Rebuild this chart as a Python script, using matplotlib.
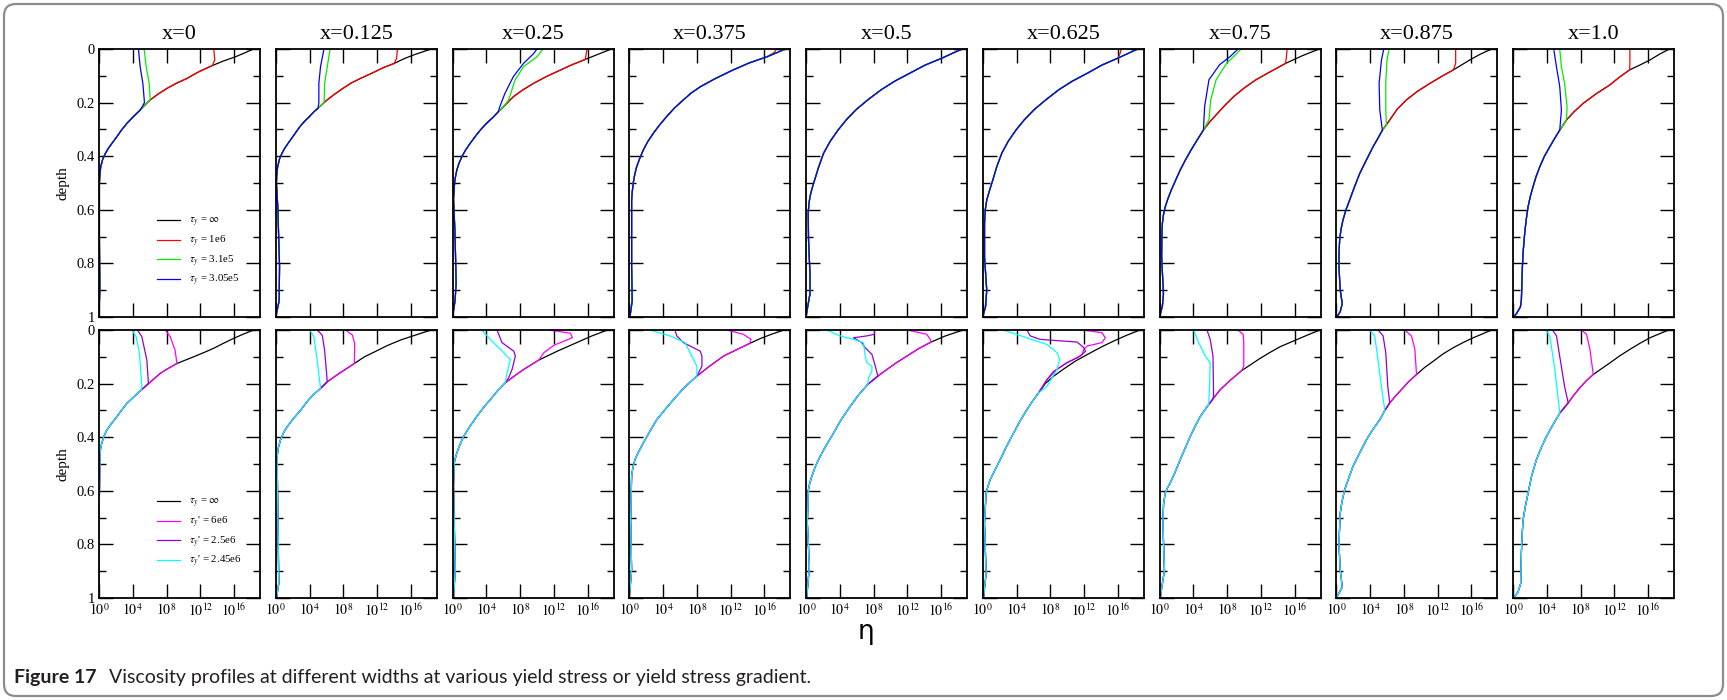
import numpy as np
import matplotlib.pyplot as plt
from matplotlib.patches import FancyBboxPatch
from matplotlib.ticker import NullLocator

plt.rcParams['font.family'] = 'serif'
plt.rcParams['font.serif'] = ['Liberation Serif', 'DejaVu Serif']
plt.rcParams['mathtext.fontset'] = 'stix'

# column titles (position across the width)
widths = ['x=0', 'x=0.125', 'x=0.25', 'x=0.375', 'x=0.5', 'x=0.625', 'x=0.75', 'x=0.875', 'x=1.0']

# viscosity profiles as (depth, log10 eta) pairs, one list per width.
# yielded curves are given down to the depth where they rejoin the reference curve.
top_black = [
    [(0, 18.3), (0.015, 17.2), (0.029, 16.15), (0.045, 14.7), (0.062, 13.4), (0.085, 11.8), (0.11, 10.4), (0.128, 9.15),
     (0.147, 8.04), (0.168, 7.0), (0.19, 6.06), (0.21, 5.4), (0.228, 4.87), (0.253, 4.05), (0.278, 3.29), (0.303, 2.65),
     (0.328, 2.1), (0.35, 1.58), (0.371, 1.1), (0.39, 0.75), (0.41, 0.45), (0.44, 0.2), (0.47, 0.1), (0.5, 0.05),
     (0.7, 0.05), (0.9, 0.1), (1.0, 0.0)],
    [(0, 18.4), (0.02, 16.5), (0.036, 15.2), (0.054, 14.0), (0.07, 12.7), (0.09, 11.4), (0.11, 10.0), (0.128, 8.87),
     (0.15, 7.8), (0.17, 6.9), (0.192, 6.0), (0.215, 5.2), (0.233, 4.55), (0.253, 3.95), (0.27, 3.4), (0.29, 2.85),
     (0.31, 2.4), (0.328, 2.0), (0.35, 1.5), (0.371, 1.05), (0.39, 0.72), (0.41, 0.45), (0.44, 0.22), (0.47, 0.12),
     (0.5, 0.08), (0.59, 0.24), (0.81, 0.45), (0.94, 0.4), (1.0, 0.0)],
    [(0, 18.8), (0.02, 17.2), (0.039, 15.7), (0.058, 14.2), (0.078, 12.8), (0.103, 11.1), (0.128, 9.6), (0.153, 8.3),
     (0.178, 7.2), (0.197, 6.6), (0.215, 6.05), (0.235, 5.4), (0.253, 4.86), (0.278, 4.0), (0.303, 3.28), (0.328, 2.65),
     (0.352, 2.09), (0.377, 1.55), (0.402, 1.1), (0.428, 0.75), (0.452, 0.51), (0.477, 0.35), (0.502, 0.24),
     (0.56, 0.12), (0.69, 0.3), (0.875, 0.43), (0.94, 0.3), (1.0, 0.0)],
    [(0, 18.6), (0.012, 17.6), (0.029, 16.3), (0.052, 14.2), (0.078, 12.3), (0.11, 10.2), (0.141, 8.4), (0.165, 7.3),
     (0.19, 6.4), (0.22, 5.35), (0.253, 4.4), (0.285, 3.55), (0.315, 2.84), (0.345, 2.2), (0.377, 1.66), (0.41, 1.22),
     (0.44, 0.87), (0.47, 0.64), (0.5, 0.47), (0.535, 0.35), (0.564, 0.28), (0.813, 0.28), (0.94, 0.35), (1.0, 0.08)],
    [(0, 18.55), (0.015, 17.4), (0.034, 16.1), (0.06, 14.1), (0.09, 12.3), (0.12, 10.5), (0.152, 8.9), (0.19, 7.3),
     (0.227, 5.9), (0.265, 4.75), (0.302, 3.8), (0.345, 2.85), (0.389, 2.08), (0.44, 1.5), (0.489, 1.02), (0.52, 0.72),
     (0.551, 0.47), (0.58, 0.34), (0.613, 0.26), (0.713, 0.3), (0.838, 0.47), (0.913, 0.47), (0.96, 0.21), (1.0, 0.0)],
    [(0, 18.36), (0.015, 17.3), (0.034, 16.0), (0.06, 14.1), (0.09, 12.4), (0.12, 10.6), (0.152, 9.0), (0.19, 7.45),
     (0.227, 6.06), (0.265, 4.9), (0.302, 3.94), (0.345, 3.0), (0.389, 2.25), (0.44, 1.65), (0.489, 1.19), (0.53, 0.78),
     (0.564, 0.47), (0.6, 0.3), (0.651, 0.21), (0.776, 0.21), (0.9, 0.47), (0.96, 0.34), (1.0, 0.0)],
    [(0, 18.9), (0.025, 16.9), (0.054, 14.9), (0.085, 13.1), (0.115, 11.4), (0.146, 10.0), (0.177, 8.8), (0.208, 7.8),
     (0.239, 6.9), (0.27, 6.0), (0.302, 5.2), (0.34, 4.45), (0.377, 3.73), (0.414, 3.07), (0.451, 2.46), (0.49, 1.9),
     (0.526, 1.4), (0.56, 0.98), (0.589, 0.68), (0.62, 0.46), (0.651, 0.34), (0.7, 0.28), (0.776, 0.25), (0.913, 0.47),
     (0.96, 0.34), (1.0, 0.0)],
    [(0, 18.4), (0.02, 17.0), (0.041, 15.8), (0.06, 14.8), (0.078, 13.86), (0.1, 12.6), (0.128, 11.1), (0.158, 9.6),
     (0.19, 8.3), (0.225, 7.2), (0.265, 6.33), (0.303, 5.46), (0.335, 4.9), (0.365, 4.35), (0.415, 3.55), (0.465, 2.77),
     (0.515, 2.15), (0.564, 1.58), (0.6, 1.15), (0.639, 0.79), (0.675, 0.55), (0.714, 0.4), (0.76, 0.33), (0.813, 0.32),
     (0.9, 0.47), (0.95, 0.71), (0.98, 0.47), (1.0, 0.08)],
    [(0, 18.5), (0.02, 17.3), (0.041, 16.2), (0.06, 15.0), (0.078, 13.8), (0.105, 12.6), (0.134, 11.46), (0.168, 9.8),
     (0.203, 8.3), (0.235, 7.2), (0.265, 6.32), (0.303, 5.53), (0.335, 4.9), (0.365, 4.35), (0.4, 3.72), (0.44, 3.16),
     (0.477, 2.72), (0.514, 2.37), (0.55, 2.05), (0.589, 1.78), (0.64, 1.55), (0.689, 1.38), (0.75, 1.22), (0.813, 1.11),
     (0.938, 0.99), (0.963, 0.87), (0.988, 0.4), (1.0, 0.08)],
]
top_red = [
    [(0, 13.58), (0.041, 13.7), (0.062, 13.4)],
    [(0, 14.4), (0.035, 14.3), (0.054, 14.0)],
    [(0, 15.9), (0.022, 15.8), (0.039, 15.7)],
    [(0, 17.4), (0.012, 17.2), (0.029, 16.3)],
    [(0, 18.2), (0.015, 17.4)],
    [(0, 16.4), (0.021, 16.2), (0.034, 16.0)],
    [(0, 15.1), (0.035, 15.0), (0.054, 14.9)],
    [(0, 14.13), (0.054, 14.13), (0.078, 13.86)],
    [(0, 13.83), (0.054, 13.83), (0.078, 13.8)],
]
top_green = [
    [(0, 5.34), (0.066, 5.58), (0.128, 5.94), (0.19, 6.06)],
    [(0, 6.43), (0.066, 6.1), (0.128, 5.78), (0.2, 5.72), (0.215, 5.2)],
    [(0, 10.7), (0.029, 10.0), (0.066, 8.4), (0.116, 7.4), (0.19, 6.64), (0.215, 6.05)],
    [(0, 18.5), (0.012, 17.6)],
    [(0, 18.4), (0.015, 17.4)],
    [(0, 18.2), (0.015, 17.3)],
    [(0, 9.67), (0.021, 9.0), (0.052, 7.97), (0.115, 6.7), (0.19, 6.06), (0.264, 5.85), (0.302, 5.2)],
    [(0, 6.25), (0.041, 6.0), (0.128, 5.86), (0.228, 5.86), (0.284, 5.94), (0.303, 5.46)],
    [(0, 5.53), (0.066, 5.73), (0.128, 6.1), (0.215, 6.4), (0.265, 6.32)],
]
top_blue = [
    [(0, 4.67), (0.066, 4.87), (0.128, 5.19), (0.2, 5.38), (0.228, 4.87)],
    [(0, 5.7), (0.066, 5.3), (0.128, 5.1), (0.2, 5.1), (0.222, 5.0)],
    [(0, 10.0), (0.017, 9.6), (0.054, 8.4), (0.103, 7.2), (0.166, 6.2), (0.215, 5.6), (0.235, 5.4)],
    [(0, 18.3), (0.012, 17.6)],
    [(0, 18.5), (0.015, 17.4)],
    [(0, 18.3), (0.015, 17.3)],
    [(0, 9.3), (0.027, 8.4), (0.059, 7.1), (0.115, 5.85), (0.214, 5.34), (0.302, 5.2)],
    [(0, 5.62), (0.041, 5.35), (0.128, 5.07), (0.228, 5.15), (0.303, 5.46)],
    [(0, 4.82), (0.066, 5.14), (0.14, 5.53), (0.228, 5.73), (0.303, 5.53)],
]

bot_black = [
    [(0, 18.33), (0.015, 17.1), (0.031, 15.95), (0.05, 14.7), (0.068, 13.58), (0.085, 12.35), (0.1, 11.2),
     (0.125, 9.22), (0.143, 8.2), (0.162, 7.24), (0.2, 5.85), (0.224, 5.0), (0.25, 4.1), (0.274, 3.29), (0.3, 2.65),
     (0.324, 2.1), (0.35, 1.45), (0.374, 0.91), (0.4, 0.55), (0.423, 0.32), (0.44, 0.2), (0.46, 0.12), (0.635, 0.04),
     (1.0, 0.0)],
    [(0, 18.4), (0.012, 17.2), (0.037, 14.8), (0.058, 13.2), (0.08, 11.8), (0.1, 10.5), (0.125, 9.3), (0.16, 7.6),
     (0.193, 6.1), (0.218, 5.3), (0.24, 4.5), (0.26, 3.9), (0.28, 3.4), (0.3, 2.93), (0.33, 2.1), (0.361, 1.35),
     (0.385, 0.9), (0.411, 0.55), (0.44, 0.3), (0.473, 0.16), (0.76, 0.28), (0.946, 0.36), (1.0, 0.08)],
    [(0, 18.33), (0.022, 16.5), (0.047, 14.7), (0.079, 12.4), (0.112, 10.22), (0.13, 9.3), (0.147, 8.43),
     (0.172, 7.3), (0.197, 6.25), (0.228, 5.3), (0.26, 4.47), (0.29, 3.65), (0.322, 2.89), (0.36, 2.05), (0.397, 1.31),
     (0.43, 0.85), (0.459, 0.51), (0.48, 0.32), (0.497, 0.2), (0.58, 0.12), (0.896, 0.32), (1.0, 0.12)],
    [(0, 18.3), (0.015, 16.9), (0.032, 15.5), (0.05, 14.25), (0.075, 12.6), (0.097, 11.17), (0.135, 9.5), (0.172, 8.0),
     (0.215, 6.5), (0.26, 5.23), (0.298, 4.2), (0.335, 3.25), (0.38, 2.4), (0.422, 1.66), (0.455, 1.1), (0.484, 0.67),
     (0.515, 0.42), (0.547, 0.28), (0.709, 0.16), (0.896, 0.28), (1.0, 0.0)],
    [(0, 18.6), (0.022, 16.5), (0.045, 14.8), (0.07, 13.3), (0.097, 11.96), (0.122, 10.7), (0.147, 9.58), (0.172, 8.5),
     (0.203, 7.3), (0.245, 6.15), (0.285, 5.23), (0.335, 4.15), (0.385, 3.25), (0.43, 2.4), (0.472, 1.66), (0.51, 1.1),
     (0.547, 0.67), (0.575, 0.42), (0.597, 0.28), (0.72, 0.16), (0.884, 0.4), (1.0, 0.08)],
    [(0, 18.6), (0.02, 17.0), (0.041, 15.5), (0.06, 14.25), (0.079, 13.1), (0.098, 12.0), (0.116, 10.96), (0.145, 9.6),
     (0.172, 8.4), (0.2, 7.4), (0.235, 6.6), (0.265, 5.9), (0.297, 5.23), (0.34, 4.4), (0.385, 3.64), (0.435, 2.8),
     (0.484, 2.06), (0.525, 1.4), (0.559, 0.87), (0.585, 0.6), (0.609, 0.4), (0.72, 0.2), (0.909, 0.4), (1.0, 0.08)],
    [(0, 19.0), (0.015, 17.8), (0.031, 16.6), (0.062, 14.3), (0.085, 13.0), (0.106, 11.9), (0.13, 10.75), (0.152, 9.7),
     (0.187, 8.4), (0.222, 7.2), (0.25, 6.5), (0.278, 5.82), (0.322, 4.83), (0.36, 4.2), (0.397, 3.64), (0.44, 3.05),
     (0.484, 2.45), (0.53, 1.85), (0.571, 1.27), (0.59, 0.93), (0.609, 0.67), (0.65, 0.48), (0.722, 0.4),
     (0.896, 0.59), (1.0, 0.08)],
    [(0, 18.4), (0.029, 16.2), (0.047, 15.0), (0.066, 13.85), (0.09, 12.6), (0.116, 11.5), (0.14, 10.45), (0.166, 9.5),
     (0.19, 8.65), (0.216, 7.9), (0.245, 7.05), (0.272, 6.33), (0.3, 5.75), (0.335, 5.15), (0.37, 4.35), (0.41, 3.56),
     (0.46, 2.75), (0.509, 1.98), (0.555, 1.45), (0.597, 0.99), (0.64, 0.68), (0.684, 0.47), (0.797, 0.32),
     (0.896, 0.47), (0.959, 0.71), (1.0, 0.0)],
    [(0, 18.4), (0.029, 16.2), (0.05, 15.0), (0.072, 13.85), (0.097, 12.6), (0.122, 11.5), (0.145, 10.45), (0.166, 9.5),
     (0.19, 8.65), (0.216, 7.9), (0.245, 7.15), (0.272, 6.53), (0.31, 5.54), (0.355, 4.7), (0.397, 3.96), (0.44, 3.33),
     (0.484, 2.77), (0.545, 2.2), (0.609, 1.78), (0.66, 1.45), (0.709, 1.19), (0.77, 1.07), (0.834, 0.99),
     (0.946, 0.91), (0.978, 0.59), (1.0, 0.08)],
]
bot_magenta = [
    [(0, 7.84), (0.025, 8.43), (0.075, 9.0), (0.125, 9.22)],
    [(0, 8.27), (0.019, 9.07), (0.05, 9.34), (0.125, 9.3)],
    [(0, 11.4), (0.012, 13.97), (0.029, 14.17), (0.057, 12.0), (0.085, 10.8), (0.112, 10.22)],
    [(0, 11.56), (0.016, 13.5), (0.035, 14.4), (0.05, 14.25)],
    [(0, 11.96), (0.016, 14.3), (0.035, 14.7), (0.045, 14.8)],
    [(0, 11.56), (0.004, 12.75), (0.01, 14.1), (0.029, 14.5), (0.047, 14.1), (0.06, 12.35), (0.072, 11.96), (0.091, 11.76),
     (0.104, 11.17), (0.122, 9.97), (0.147, 8.8), (0.185, 7.6), (0.235, 6.6)],
    [(0, 9.26), (0.016, 9.9), (0.047, 9.97), (0.135, 9.97), (0.152, 9.7)],
    [(0, 8.1), (0.022, 8.9), (0.072, 9.3), (0.166, 9.5)],
    [(0, 8.1), (0.016, 8.7), (0.072, 9.1), (0.166, 9.5)],
]
bot_purple = [
    [(0, 4.55), (0.025, 5.07), (0.112, 5.66), (0.2, 5.85)],
    [(0, 4.9), (0.019, 5.5), (0.075, 5.78), (0.193, 6.1)],
    [(0, 5.27), (0.047, 5.86), (0.079, 7.24), (0.097, 7.44), (0.147, 7.05), (0.178, 6.65), (0.197, 6.25)],
    [(0, 5.42), (0.022, 5.62), (0.047, 6.41), (0.079, 8.4), (0.097, 8.6), (0.135, 8.6), (0.172, 8.0)],
    [(0, 8.1), (0.016, 8.1), (0.022, 7.2), (0.029, 5.62), (0.047, 6.6), (0.066, 7.0), (0.091, 7.8), (0.135, 8.2),
     (0.16, 8.4), (0.172, 8.5)],
    [(0, 5.23), (0.022, 5.62), (0.035, 6.8), (0.045, 11.17), (0.066, 11.96), (0.079, 12.16), (0.097, 11.56),
     (0.122, 9.97), (0.154, 8.4), (0.185, 7.6), (0.235, 6.6)],
    [(0, 5.62), (0.035, 6.0), (0.097, 6.33), (0.247, 6.4), (0.26, 6.26)],
    [(0, 4.95), (0.022, 5.54), (0.085, 5.86), (0.21, 6.1), (0.272, 6.33)],
    [(0, 4.67), (0.022, 5.15), (0.085, 5.46), (0.21, 6.1), (0.272, 6.53)],
]
bot_cyan = [
    [(0, 3.92), (0.025, 4.39), (0.087, 4.79), (0.212, 5.07), (0.224, 5.0)],
    [(0, 4.04), (0.025, 4.51), (0.112, 4.9), (0.218, 5.3)],
    [(0, 3.48), (0.035, 4.47), (0.072, 5.66), (0.11, 6.85), (0.16, 6.45), (0.197, 6.25)],
    [(0, 2.45), (0.022, 4.83), (0.047, 6.6), (0.085, 7.2), (0.135, 8.0), (0.172, 8.0)],
    [(0, 2.45), (0.022, 4.04), (0.035, 5.62), (0.047, 6.8), (0.097, 7.0), (0.122, 7.2), (0.135, 7.8), (0.154, 7.8),
     (0.178, 7.4), (0.203, 7.3)],
    [(0, 2.45), (0.029, 5.23), (0.054, 7.6), (0.085, 8.8), (0.11, 9.1), (0.147, 8.8), (0.21, 7.6), (0.235, 6.6)],
    [(0, 4.04), (0.047, 4.63), (0.097, 5.42), (0.122, 6.0), (0.197, 5.94), (0.278, 5.82)],
    [(0, 3.96), (0.022, 4.55), (0.085, 4.83), (0.21, 5.34), (0.3, 5.75)],
    [(0, 3.88), (0.022, 4.35), (0.147, 4.95), (0.31, 5.54)],
]

top_labels = [r'$\tau_y$ = $\infty$', r'$\tau_y$ = 1e6', r'$\tau_y$ = 3.1e5', r'$\tau_y$ = 3.05e5']
bot_labels = [r'$\tau_y$ = $\infty$', r"$\tau_y$' = 6e6", r"$\tau_y$' = 2.5e6", r"$\tau_y$' = 2.45e6"]
top_colors = ['#000000', '#ff0000', '#00ee00', '#0000ff']
bot_colors = ['#000000', '#ff00ff', '#9400d3', '#00ffff']

depth_ticks = [0, 0.2, 0.4, 0.6, 0.8, 1.0]
depth_ticklabels = ['0', '0.2', '0.4', '0.6', '0.8', '1']
eta_ticks = [1e0, 1e4, 1e8, 1e12, 1e16]
eta_ticklabels = [r'$10^{0}$', r'$10^{4}$', r'$10^{8}$', r'$10^{12}$', r'$10^{16}$']

caption_head = 'Figure 17'
caption_body = 'Viscosity profiles at different widths at various yield stress or yield stress gradient.'

W, H = 1727, 700
fig = plt.figure(figsize=(W / 100, H / 100), dpi=100)

# frame, axis symbol and caption live on a pixel-space overlay
over = fig.add_axes([0, 0, 1, 1])
over.set_xlim(0, W)
over.set_ylim(H, 0)
over.axis('off')
over.add_patch(FancyBboxPatch((4, 4), W - 8, H - 8, boxstyle='round,pad=0,rounding_size=12',
                              fill=False, edgecolor='#8c8c8c', lw=1.6))
over.text(866, 632, 'η', fontsize=19, family='DejaVu Sans', ha='center', va='center')
cap_font = ['Lato', 'DejaVu Sans']
head = over.text(14, 677, caption_head, fontsize=14, fontweight='bold', family=cap_font,
                 ha='left', va='center', color='#231f20')
renderer = fig.canvas.get_renderer()
head_right = over.transData.inverted().transform(head.get_window_extent(renderer))[1][0]
over.text(head_right + 13, 677, caption_body, fontsize=14, family=cap_font,
          ha='left', va='center', color='#231f20')


def full_curve(seg, ref):
    # upper yielded part, then the reference profile below the junction
    d_join = seg[-1][0]
    pts = seg + [p for p in ref if p[0] > d_join]
    d = np.array([p[0] for p in pts])
    e = np.array([p[1] for p in pts])
    return d, 10 ** e


rows = [
    (49, [top_black, top_red, top_green, top_blue], top_colors, top_labels),
    (330, [bot_black, bot_magenta, bot_purple, bot_cyan], bot_colors, bot_labels),
]
for r, (top_px, series, colors, labels) in enumerate(rows):
    for c in range(9):
        left_px = 99 + 176.75 * c
        ax = fig.add_axes([left_px / W, (H - top_px - 268) / H, 161 / W, 268 / H])
        ref = series[0][c]
        for k, (s, col, lab) in enumerate(zip(series, colors, labels)):
            if k == 0:
                d = np.array([p[0] for p in ref])
                eta = 10 ** np.array([p[1] for p in ref])
            else:
                d, eta = full_curve(s[c], ref)
            ax.plot(eta, d, color=col, lw=0.9, label=lab)
        ax.set_xscale('log')
        ax.set_xlim(1, 10 ** 19.05)
        ax.set_ylim(1, 0)
        ax.set_xticks(eta_ticks)
        ax.xaxis.set_minor_locator(NullLocator())
        ax.set_yticks(depth_ticks)
        ax.set_yticks([0.1, 0.3, 0.5, 0.7, 0.9], minor=True)
        ax.tick_params(which='both', direction='in', top=True, right=True, width=1.0)
        ax.tick_params(which='major', length=10)
        ax.tick_params(which='minor', length=5)
        ax.tick_params(axis='y', labelsize=10.5)
        ax.tick_params(axis='x', labelsize=10)
        for sp in ax.spines.values():
            sp.set_linewidth(1.3)
        if c == 0:
            ax.set_yticklabels(depth_ticklabels)
            ax.tick_params(axis='y', pad=3)
            ax.set_ylabel('depth', fontsize=11, labelpad=5)
            ax.legend(loc='upper left', bbox_to_anchor=(0.36, 0.376), frameon=False, fontsize=7.8,
                      handlelength=2.1, handletextpad=0.9, labelspacing=0.42, borderpad=0, borderaxespad=0)
        else:
            ax.tick_params(axis='y', labelleft=False)
        if r == 1:
            ax.set_xticklabels(eta_ticklabels)
            ax.tick_params(axis='x', pad=3)
        else:
            ax.tick_params(axis='x', labelbottom=False)
            ax.set_title(widths[c], fontsize=16, pad=7)

fig.savefig('out.png', dpi=100)
